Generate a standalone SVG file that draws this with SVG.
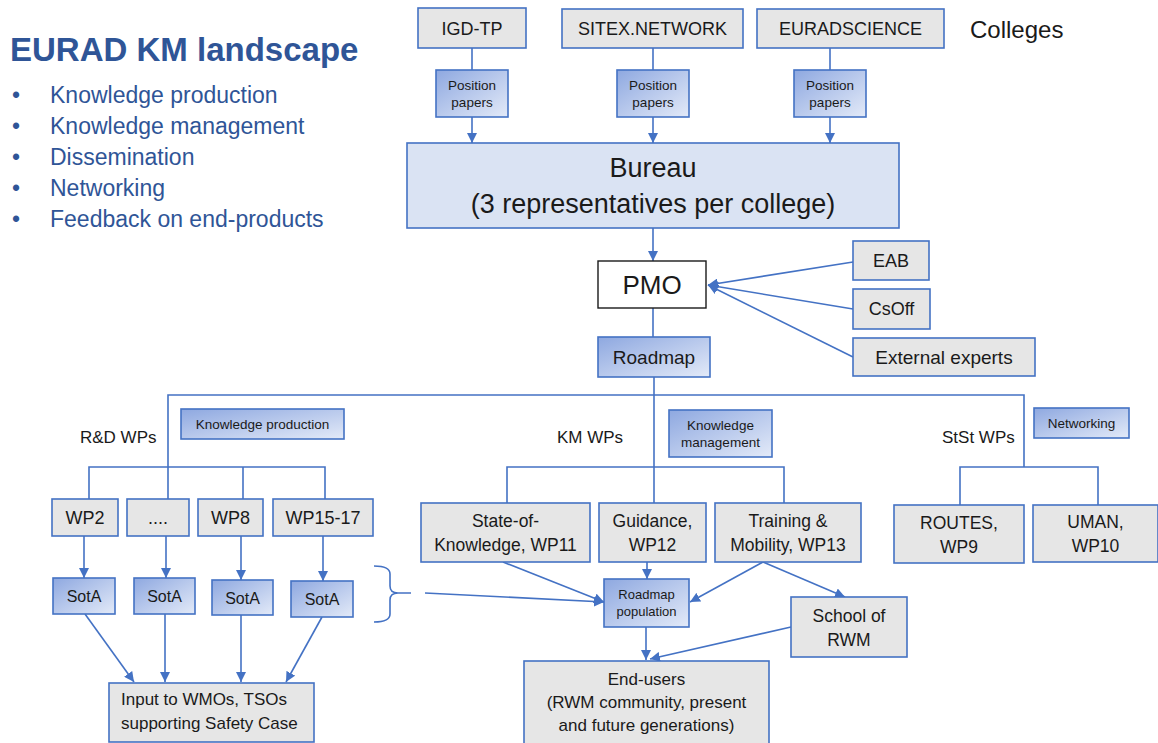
<svg xmlns="http://www.w3.org/2000/svg" width="1158" height="743" viewBox="0 0 1158 743">
<defs>
<linearGradient id="bg" x1="0" y1="0" x2="1" y2="1">
<stop offset="0" stop-color="#8EA8E0"/>
<stop offset="1" stop-color="#E3EAF8"/>
</linearGradient>
<marker id="ah" viewBox="0 0 10 10" refX="10" refY="5" markerWidth="10" markerHeight="10" markerUnits="userSpaceOnUse" orient="auto">
<path d="M0,0 L10,5 L0,10 z" fill="#4472C4"/>
</marker>
<style>
text{font-family:"Liberation Sans",Arial,sans-serif;fill:#1a1a1a}
.g{fill:#E6E6E6;stroke:#4472C4;stroke-width:1.6}
.b{fill:url(#bg);stroke:#4472C4;stroke-width:1.6}
.c{fill:none;stroke:#4472C4;stroke-width:1.6}
.a{fill:none;stroke:#4472C4;stroke-width:1.6;marker-end:url(#ah)}
.m{text-anchor:middle}
.bl{fill:#2F5597;font-size:23px}
</style>
</defs>
<rect width="1158" height="743" fill="#ffffff"/>

<g id="title">
<text x="10" y="61" style="font-size:33px;font-weight:bold;fill:#2F5597">EURAD KM landscape</text>
<text x="12" y="103" class="bl">•</text><text x="50" y="103" class="bl">Knowledge production</text>
<text x="12" y="134" class="bl">•</text><text x="50" y="134" class="bl">Knowledge management</text>
<text x="12" y="165" class="bl">•</text><text x="50" y="165" class="bl">Dissemination</text>
<text x="12" y="196" class="bl">•</text><text x="50" y="196" class="bl">Networking</text>
<text x="12" y="227" class="bl">•</text><text x="50" y="227" class="bl">Feedback on end-products</text>
</g>

<g id="connectors">
<path class="c" d="M472,48 V70"/><path class="a" d="M472,117 V143"/>
<path class="c" d="M653,48 V70"/><path class="a" d="M653,117 V143"/>
<path class="c" d="M830,48 V70"/><path class="a" d="M830,117 V143"/>
<path class="a" d="M653,228 V261"/>
<path class="a" d="M853,262 L708,285"/>
<path class="a" d="M853,309 L708,285"/>
<path class="a" d="M853,357 L708,285"/>
<path class="c" d="M653,308 V337"/>
<path class="c" d="M654,377 V503"/>
<path class="c" d="M168,499 V395 H1024 V467"/>
<path class="c" d="M89,499 V467 H325 V499"/>
<path class="c" d="M243,467 V499"/>
<path class="c" d="M507,503 V467 H784 V503"/>
<path class="c" d="M960,505 V467 H1098 V505"/>
<path class="a" d="M84,536 V578"/>
<path class="a" d="M166,536 V578"/>
<path class="a" d="M241,536 V580"/>
<path class="a" d="M323,536 V581"/>
<path class="a" d="M85,614 L134,682"/>
<path class="a" d="M165,614 V682"/>
<path class="a" d="M241,615 V682"/>
<path class="a" d="M322,617 L286,682"/>
<path class="c" d="M374,566 Q390,566 390,574 V586 Q390,593 398,593 H411 M398,593 Q390,593 390,600 V614 Q390,622 374,622"/>
<path class="a" d="M425,593 L604,602"/>
<path class="a" d="M503,562 L604,602"/>
<path class="a" d="M647,562 V579"/>
<path class="a" d="M763,562 L690,602"/>
<path class="a" d="M763,562 L845,597"/>
<path class="a" d="M646,627 V660"/>
<path class="a" d="M791,627 L650,659"/>
</g>

<g id="igd"><rect class="g" x="418" y="8" width="108" height="40"/><text class="m" x="472" y="35" style="font-size:18px">IGD-TP</text></g>
<g id="sitex"><rect class="g" x="562" y="9" width="181" height="39"/><text class="m" x="652.5" y="35" style="font-size:18px">SITEX.NETWORK</text></g>
<g id="euradscience"><rect class="g" x="757" y="9" width="187" height="39"/><text class="m" x="850.5" y="35" style="font-size:18px">EURADSCIENCE</text></g>
<g id="colleges"><text x="970" y="38" style="font-size:24px">Colleges</text></g>

<g id="pp1"><rect class="b" x="436" y="70" width="72" height="47"/><text class="m" x="472" y="90" style="font-size:13.5px">Position</text><text class="m" x="472" y="107" style="font-size:13.5px">papers</text></g>
<g id="pp2"><rect class="b" x="617" y="70" width="72" height="47"/><text class="m" x="653" y="90" style="font-size:13.5px">Position</text><text class="m" x="653" y="107" style="font-size:13.5px">papers</text></g>
<g id="pp3"><rect class="b" x="794" y="70" width="72" height="47"/><text class="m" x="830" y="90" style="font-size:13.5px">Position</text><text class="m" x="830" y="107" style="font-size:13.5px">papers</text></g>

<g id="bureau"><rect x="407" y="143" width="492" height="85" fill="#DAE3F3" stroke="#4472C4" stroke-width="1.6"/>
<text class="m" x="653" y="177" style="font-size:27px">Bureau</text>
<text class="m" x="653" y="213" style="font-size:27px">(3 representatives per college)</text></g>

<g id="pmo"><rect x="598" y="261" width="108" height="47" fill="#ffffff" stroke="#1a1a1a" stroke-width="1.4"/><text class="m" x="652" y="294" style="font-size:26px">PMO</text></g>
<g id="eab"><rect class="g" x="853" y="241" width="76" height="39"/><text class="m" x="891" y="267" style="font-size:18px">EAB</text></g>
<g id="csoff"><rect class="g" x="853" y="289" width="77" height="40"/><text class="m" x="891.5" y="315" style="font-size:18px">CsOff</text></g>
<g id="external"><rect class="g" x="853" y="338" width="182" height="38"/><text class="m" x="944" y="364" style="font-size:19px">External experts</text></g>
<g id="roadmap"><rect class="b" x="598" y="337" width="112" height="40"/><text class="m" x="654" y="364" style="font-size:19px">Roadmap</text></g>

<g id="rd-label"><text x="80" y="443" style="font-size:17px">R&amp;D WPs</text></g>
<g id="kp"><rect class="b" x="181" y="409" width="163" height="30"/><text class="m" x="262.5" y="429" style="font-size:13.5px">Knowledge production</text></g>
<g id="km-label"><text x="557" y="443" style="font-size:17px">KM WPs</text></g>
<g id="kmgmt"><rect class="b" x="669" y="410" width="103" height="47"/><text class="m" x="720.5" y="430" style="font-size:13.5px">Knowledge</text><text class="m" x="720.5" y="447" style="font-size:13.5px">management</text></g>
<g id="stst-label"><text x="942" y="443" style="font-size:17px">StSt WPs</text></g>
<g id="net"><rect class="b" x="1034" y="408" width="95" height="30"/><text class="m" x="1081.5" y="428" style="font-size:13.5px">Networking</text></g>

<g id="wp2"><rect class="g" x="52" y="499" width="66" height="37"/><text class="m" x="85" y="524" style="font-size:18px">WP2</text></g>
<g id="wpdots"><rect class="g" x="127" y="499" width="62" height="37"/><text class="m" x="158" y="524" style="font-size:18px">....</text></g>
<g id="wp8"><rect class="g" x="198" y="499" width="65" height="37"/><text class="m" x="230.5" y="524" style="font-size:18px">WP8</text></g>
<g id="wp15"><rect class="g" x="273" y="499" width="100" height="37"/><text class="m" x="323" y="524" style="font-size:18px">WP15-17</text></g>

<g id="sota1"><rect class="b" x="53" y="578" width="62" height="36"/><text class="m" x="84" y="602" style="font-size:16px">SotA</text></g>
<g id="sota2"><rect class="b" x="134" y="578" width="61" height="36"/><text class="m" x="164.5" y="602" style="font-size:16px">SotA</text></g>
<g id="sota3"><rect class="b" x="212" y="580" width="61" height="35"/><text class="m" x="242.5" y="604" style="font-size:16px">SotA</text></g>
<g id="sota4"><rect class="b" x="291" y="581" width="62" height="36"/><text class="m" x="322" y="605" style="font-size:16px">SotA</text></g>

<g id="input"><rect class="g" x="109" y="683" width="205" height="59"/><text x="121" y="705" style="font-size:17px">Input to WMOs, TSOs</text><text x="121" y="729" style="font-size:17px">supporting Safety Case</text></g>

<g id="sok"><rect class="g" x="421" y="503" width="169" height="59"/><text class="m" x="505.5" y="527" style="font-size:17.5px">State-of-</text><text class="m" x="505.5" y="551" style="font-size:17.5px">Knowledge, WP11</text></g>
<g id="guid"><rect class="g" x="599" y="503" width="107" height="59"/><text class="m" x="652.5" y="527" style="font-size:17.5px">Guidance,</text><text class="m" x="652.5" y="551" style="font-size:17.5px">WP12</text></g>
<g id="train"><rect class="g" x="715" y="503" width="146" height="59"/><text class="m" x="788" y="527" style="font-size:17.5px">Training &amp;</text><text class="m" x="788" y="551" style="font-size:17.5px">Mobility, WP13</text></g>

<g id="routes"><rect class="g" x="894" y="505" width="130" height="58"/><text class="m" x="959" y="529" style="font-size:17.5px">ROUTES,</text><text class="m" x="959" y="553" style="font-size:17.5px">WP9</text></g>
<g id="uman"><rect class="g" x="1033" y="505" width="125" height="57"/><text class="m" x="1095.5" y="528" style="font-size:17.5px">UMAN,</text><text class="m" x="1095.5" y="552" style="font-size:17.5px">WP10</text></g>

<g id="rpop"><rect class="b" x="604" y="579" width="85" height="48"/><text class="m" x="646.5" y="599" style="font-size:13px">Roadmap</text><text class="m" x="646.5" y="616" style="font-size:13px">population</text></g>
<g id="school"><rect class="g" x="791" y="597" width="116" height="60"/><text class="m" x="849" y="622" style="font-size:17.5px">School of</text><text class="m" x="849" y="646" style="font-size:17.5px">RWM</text></g>
<g id="endusers"><rect class="g" x="524" y="661" width="245" height="84"/><text class="m" x="646.5" y="685" style="font-size:17px">End-users</text><text class="m" x="646.5" y="708" style="font-size:17px">(RWM community, present</text><text class="m" x="646.5" y="731" style="font-size:17px">and future generations)</text></g>
</svg>
